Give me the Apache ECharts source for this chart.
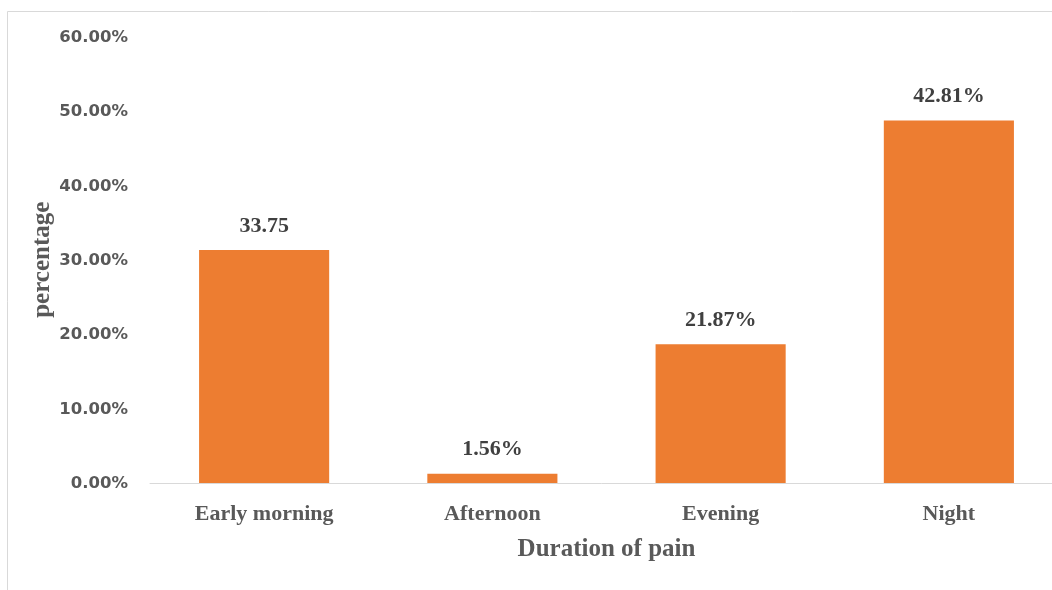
<!DOCTYPE html>
<html>
<head>
<meta charset="utf-8">
<script src="https://cdn.jsdelivr.net/npm/echarts@6/dist/echarts.min.js"></script>
<style>
html, body { margin: 0; padding: 0; background: #fff; }
#chart { width: 1052px; height: 590px; }
</style>
</head>
<body>
<div id="chart"></div>
<script>
// categories and values
var categories = ['Early morning', 'Afternoon', 'Evening', 'Night'];
var barValues = [31.3, 1.25, 18.65, 48.7];      // bar heights, in %
var barLabels = ['33.75', '1.56%', '21.87%', '42.81%']; // text printed above the bars
var yTicks = [0, 10, 20, 30, 40, 50, 60];

var serif = '"Liberation Serif", "Times New Roman", serif';
var grey = '#595959';

var myChart = echarts.init(document.getElementById('chart'));
var option = {
	backgroundColor: '#fff',
	animation: false,
	graphic: [{
		type: 'rect',
		shape: { x: 7.5, y: 11.5, width: 1200, height: 800 },
		style: { fill: 'none', stroke: '#d9d9d9', lineWidth: 1 },
		silent: true
	}],
	grid: {
		left: 150,
		top: 36.5,
		right: -11, // plot area runs past the right edge in the original
		bottom: 107,
		outerBoundsMode: 'none',
		containLabel: false
	},
	xAxis: {
		type: 'category',
		data: categories,
		name: 'Duration of pain',
		nameLocation: 'middle',
		nameGap: 54,
		nameTextStyle: {
			fontFamily: serif,
			fontWeight: 'bold',
			fontSize: 25,
			color: grey
		},
		axisLine: { lineStyle: { color: '#d9d9d9', width: 1 } },
		axisTick: { show: false },
		axisLabel: {
			margin: 20,
			fontFamily: serif,
			fontWeight: 'bold',
			fontSize: 22,
			color: grey
		}
	},
	yAxis: {
		type: 'value',
		min: yTicks[0],
		max: yTicks[yTicks.length - 1],
		interval: 10,
		name: 'percentage',
		nameLocation: 'middle',
		nameGap: 95,
		nameMoveOverlap: false,
		nameTextStyle: {
			fontFamily: serif,
			fontWeight: 'bold',
			fontSize: 25,
			color: grey
		},
		axisLine: { show: false },
		axisTick: { show: false },
		splitLine: { show: false },
		axisLabel: {
			margin: 22,
			fontFamily: '"DejaVu Sans", sans-serif',
			fontWeight: 'bold',
			fontSize: 16.5,
			color: grey,
			verticalAlign: 'top',
			lineHeight: 16,
			padding: [-7, 0, 0, 0],
			formatter: function(v) {
				return v.toFixed(2) + '%';
			}
		}
	},
	series: [{
		type: 'bar',
		data: barValues,
		barWidth: '57%',
		itemStyle: { color: '#ED7D31' },
		label: {
			show: true,
			position: 'top',
			distance: 13,
			fontFamily: serif,
			fontWeight: 'bold',
			fontSize: 22,
			color: '#404040',
			formatter: function(p) {
				return barLabels[p.dataIndex];
			}
		}
	}]
};
myChart.setOption(option);
</script>
</body>
</html>
